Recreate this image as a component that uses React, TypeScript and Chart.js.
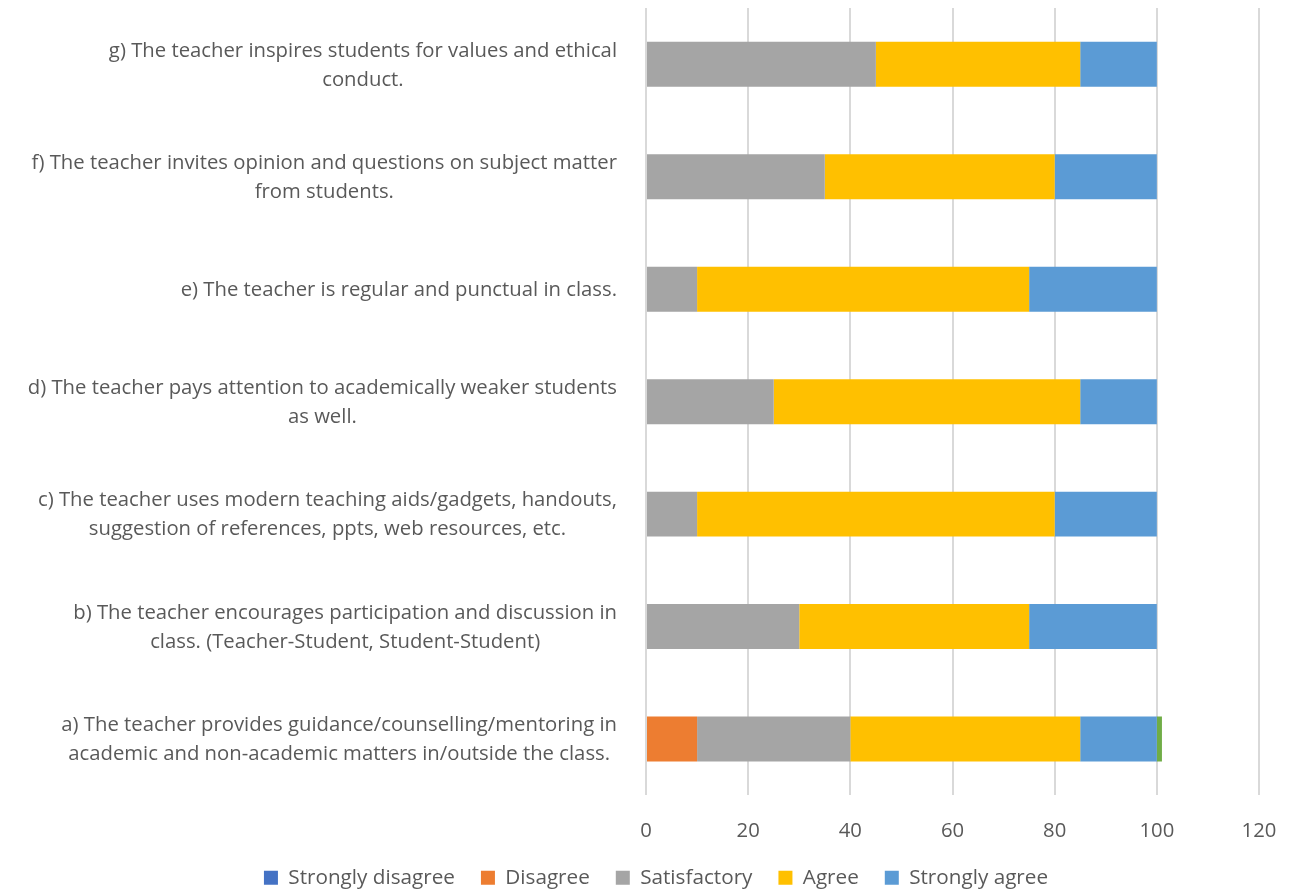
import React, { useEffect, useRef } from "react";
import { Chart, registerables } from "chart.js";

Chart.register(...registerables);

const categoryLines: string[][] = [
  ["g) The teacher inspires students for values and ethical", "conduct."],
  ["f) The teacher invites opinion and questions on subject matter", "from students."],
  ["e) The teacher is regular and punctual in class."],
  ["d) The teacher pays attention to academically weaker students", "as well."],
  ["c) The teacher uses modern teaching aids/gadgets, handouts,", "suggestion of references, ppts, web resources, etc."],
  ["b) The teacher encourages participation and discussion in", "class. (Teacher-Student, Student-Student)"],
  ["a) The teacher provides guidance/counselling/mentoring in", "academic and non-academic matters in/outside the class."],
];

const stronglyDisagree = [0, 0, 0, 0, 0, 0, 0];
const disagree = [0, 0, 0, 0, 0, 0, 10];
const satisfactory = [45, 35, 10, 25, 10, 30, 30];
const agree = [40, 45, 65, 60, 70, 45, 45];
const stronglyAgree = [15, 20, 25, 15, 20, 25, 15];
const extra = [0, 0, 0, 0, 0, 0, 1];

const xTicks = [0, 20, 40, 60, 80, 100, 120];

const FONT = "'Open Sans', sans-serif";
const TEXT = "#595959";

const labelPlugin = {
  id: "catLabels",
  afterDraw(chart: any) {
    const ctx = chart.ctx;
    const yScale = chart.scales.y;
    const area = chart.chartArea;
    ctx.save();
    ctx.font = `20.3px ${FONT}`;
    ctx.fillStyle = TEXT;
    ctx.textAlign = "center";
    ctx.textBaseline = "middle";
    const lh = 29;
    categoryLines.forEach((lines, i) => {
      const yc = yScale.getPixelForTick(i);
      const w = Math.max(...lines.map((l) => ctx.measureText(l).width));
      const right = area.left - 29;
      const cx = right - w / 2;
      const y0 = yc - ((lines.length - 1) * lh) / 2 + 1;
      lines.forEach((l, j) => ctx.fillText(l, cx, y0 + j * lh));
    });
    ctx.restore();
  },
};

export default function App() {
  const ref = useRef<HTMLCanvasElement | null>(null);
  useEffect(() => {
    document.body.style.margin = "0";
    const chart = new Chart(ref.current!, {
      type: "bar",
      data: {
        labels: categoryLines.map((l) => l.join(" ")),
        datasets: [
          { label: "Strongly disagree", data: stronglyDisagree, backgroundColor: "#4472C4" },
          { label: "Disagree", data: disagree, backgroundColor: "#ED7D31" },
          { label: "Satisfactory", data: satisfactory, backgroundColor: "#A5A5A5" },
          { label: "Agree", data: agree, backgroundColor: "#FFC000" },
          { label: "Strongly agree", data: stronglyAgree, backgroundColor: "#5B9BD5" },
          { label: "", data: extra, backgroundColor: "#70AD47" },
        ],
      },
      options: {
        indexAxis: "y",
        animation: false,
        responsive: false,
        maintainAspectRatio: false,
        layout: { padding: { top: 8, right: 35, left: 53, bottom: -5 } },
        datasets: { bar: { categoryPercentage: 1, barPercentage: 0.4 } },
        scales: {
          x: {
            stacked: true,
            min: 0,
            max: 120,
            afterBuildTicks: (s: any) => {
              s.ticks = xTicks.map((v) => ({ value: v }));
            },
            afterFit: (s: any) => {
              s.height = 46;
              s.paddingLeft = 0;
              s.paddingRight = 0;
            },
            grid: { color: "#D9D9D9", lineWidth: 2, drawTicks: false },
            border: { display: false },
            ticks: { color: TEXT, font: { family: FONT, size: 20.3 }, padding: 24 },
          },
          y: {
            stacked: true,
            grid: { display: false },
            border: { display: false },
            ticks: { display: false },
            afterFit: (s: any) => {
              s.width = 593;
            },
          },
        },
        plugins: {
          tooltip: { enabled: false },
          legend: {
            position: "bottom",
            labels: {
              filter: (item: any) => item.text !== "",
              boxWidth: 14,
              boxHeight: 14,
              padding: 26,
              color: TEXT,
              font: { family: FONT, size: 20.7 },
            },
          },
        },
      },
      plugins: [labelPlugin],
    });
    return () => chart.destroy();
  }, []);
  return (
    <div style={{ width: 1294, height: 893 }}>
      <canvas ref={ref} width={1294} height={893} style={{ display: "block" }} />
    </div>
  );
}
